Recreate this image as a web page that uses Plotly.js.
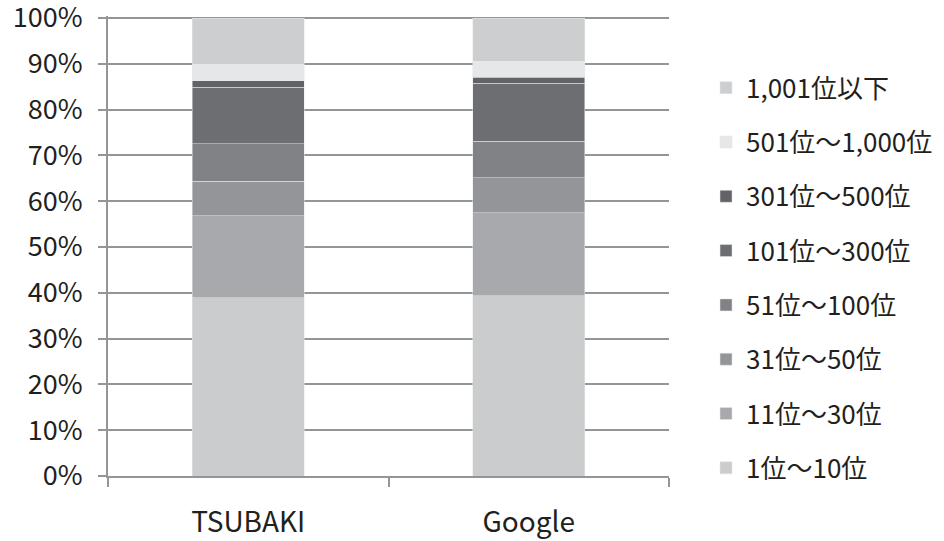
<!DOCTYPE html>
<html>
<head>
<meta charset="utf-8">
<script src="https://cdn.plot.ly/plotly-3.0.1.min.js"></script>
<style>html,body{margin:0;padding:0;background:#fff}#chart{width:944px;height:541px}</style>
</head>
<body>
<div id="chart"></div>
<script>
const categories = ["TSUBAKI", "Google"];
const seriesNames = ["1位〜10位", "11位〜30位", "31位〜50位", "51位〜100位", "101位〜300位", "301位〜500位", "501位〜1,000位", "1,001位以下"];
const s1to10 = [38.9, 39.4];
const s11to30 = [17.9, 18.1];
const s31to50 = [7.6, 7.6];
const s51to100 = [8.1, 8.0];
const s101to300 = [12.4, 12.7];
const s301to500 = [1.4, 1.3];
const s501to1000 = [3.6, 3.5];
const s1001plus = [10.1, 9.4];
const seriesValues = [s1to10, s11to30, s31to50, s51to100, s101to300, s301to500, s501to1000, s1001plus];
const colors = ["#cbcccd", "#a7a9ac", "#939598", "#808285", "#6d6e71", "#626366", "#e6e7e8", "#cdcecf"];
const yTickVals = [0,10,20,30,40,50,60,70,80,90,100];
const yTickText = yTickVals.map(v => v + "%");

const FONT = '"Noto Sans CJK JP", "Noto Sans", sans-serif';
const n = seriesNames.length;
const data = seriesNames.map((name, i) => ({
  type: 'bar',
  name: name,
  x: categories,
  y: seriesValues[i],
  legendgroup: 'g' + i,
  legendrank: 100 + (n - i),
  marker: {color: colors[i], line: {color: '#e6e7e8', width: 0.5}},
  hoverinfo: 'skip'
}));

const layout = {
  width: 944, height: 541,
  margin: {l: 108, r: 275, t: 16, b: 65, autoexpand: false},
  paper_bgcolor: '#fff', plot_bgcolor: '#fff',
  barmode: 'stack',
  bargap: 0.6,
  font: {family: FONT, color: '#231f20', size: 26},
  showlegend: true,
  legend: {
    x: 1.066, xanchor: 'left', y: 0.895, yanchor: 'top',
    traceorder: 'grouped', tracegroupgap: 17.5,
    font: {family: FONT, size: 26, color: '#231f20'},
    bgcolor: 'rgba(0,0,0,0)'
  },
  xaxis: {
    type: 'category',
    showline: true, linecolor: '#939598', linewidth: 2,
    ticks: 'outside', tickson: 'boundaries', ticklen: 9, tickwidth: 2, tickcolor: '#939598',
    ticklabelstandoff: 20,
    tickfont: {family: FONT, size: 28, color: '#231f20'},
    showgrid: false, zeroline: false, fixedrange: true
  },
  yaxis: {
    range: [0, 100.44],
    tickvals: yTickVals, ticktext: yTickText,
    ticklabeloverflow: 'allow',
    showline: true, linecolor: '#939598', linewidth: 2,
    ticks: 'outside', ticklen: 8, tickwidth: 2, tickcolor: '#939598',
    ticklabelstandoff: 10,
    showgrid: true, gridcolor: '#939598', gridwidth: 2,
    zeroline: false,
    tickfont: {family: FONT, size: 27, color: '#231f20'},
    fixedrange: true
  }
};

Plotly.newPlot('chart', data, layout, {displayModeBar: false, staticPlot: true});
</script>
</body>
</html>
